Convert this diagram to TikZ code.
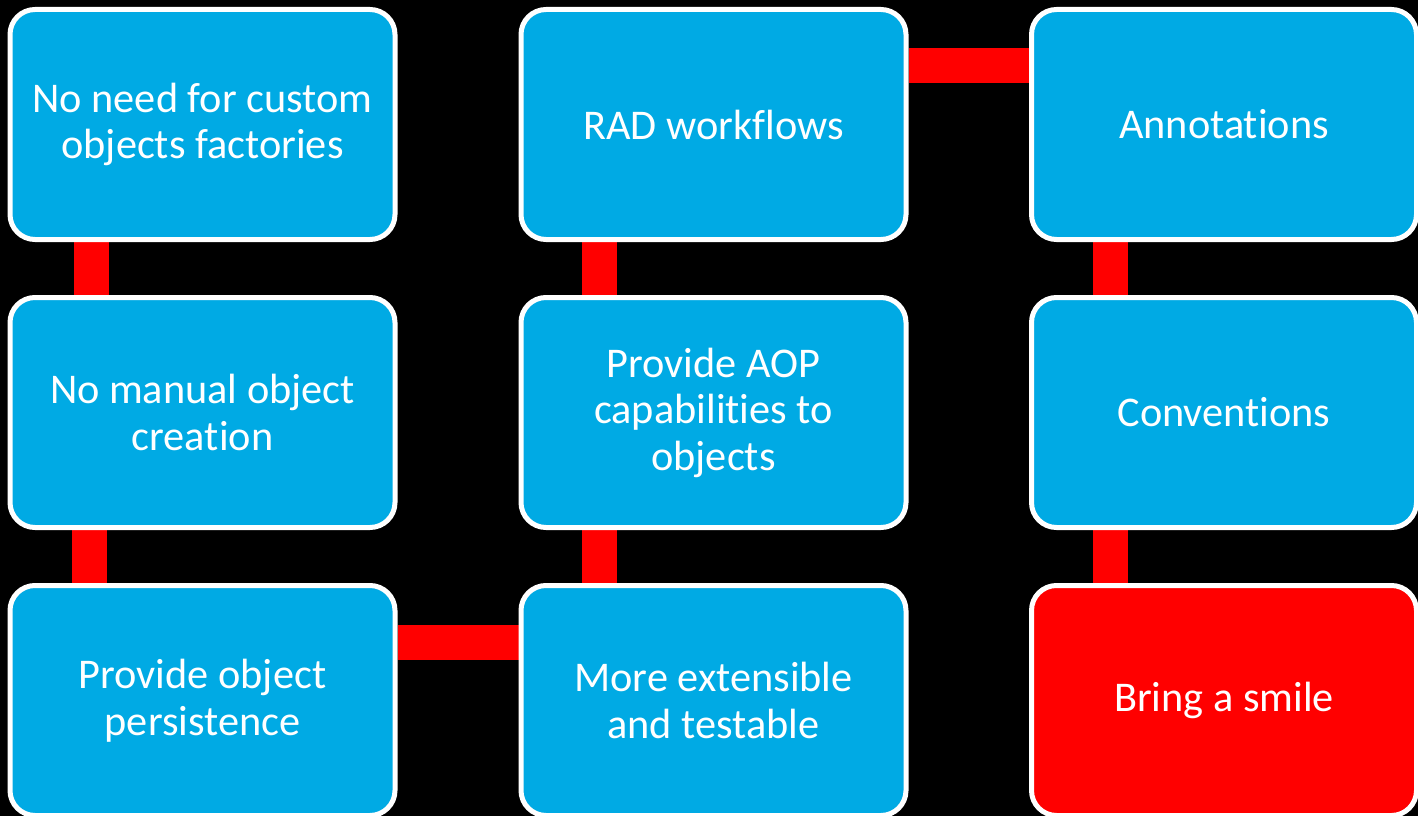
\documentclass[tikz,border=0pt]{standalone}
\usepackage{fontspec}
\setmainfont[Ligatures=NoCommon]{Carlito}
\usetikzlibrary{backgrounds}
\definecolor{boxblue}{RGB}{0,170,228}
\definecolor{barred}{RGB}{255,0,0}
\tikzset{
  box/.style={draw=white, line width=5pt, fill=boxblue, rounded corners=25pt,
    minimum width=385pt, minimum height=230pt, text=white, align=center,
    font=\fontsize{42.3pt}{46.5pt}\selectfont, inner sep=0pt},
  redbox/.style={box, fill=barred},
  bar/.style={draw=barred, line width=35pt}
}
\begin{document}
\begin{tikzpicture}[x=1pt,y=1pt]
\useasboundingbox (0,0) rectangle (1418,-816);
\node[box] (a1) at (202.5,-124.5) {No need for custom\\objects factories};
\node[box] (a2) at (202.5,-412.5) {No manual object\\creation};
\node[box] (a3) at (202.5,-700.5) {Provide object\\persistence};
\node[box] (b1) at (713.5,-124.5) {RAD workflows};
\node[box] (b2) at (713.5,-412.5) {Provide AOP\\capabilities to\\objects};
\node[box] (b3) at (713.5,-700.5) {More extensible\\and testable};
\node[box] (c1) at (1224,-124.5) {Annotations};
\node[box] (c2) at (1224,-412.5) {Conventions};
\node[redbox] (c3) at (1224,-700.5) {Bring a smile};
\begin{scope}[on background layer]
  \fill[black] (0,0) rectangle (1418,-816);
  \draw[bar] ([xshift=-111pt]a1.south) -- ([xshift=-111pt]a2.north);
  \draw[bar] ([xshift=-113.5pt]a2.south) -- ([xshift=-113.5pt]a3.north);
  \draw[bar] ([xshift=-114.5pt]b1.south) -- ([xshift=-114.5pt]b2.north);
  \draw[bar] ([xshift=-114.5pt]b2.south) -- ([xshift=-114.5pt]b3.north);
  \draw[bar] ([xshift=-114pt]c1.south) -- ([xshift=-114pt]c2.north);
  \draw[bar] ([xshift=-114pt]c2.south) -- ([xshift=-114pt]c3.north);
  \draw[bar] ([yshift=58.5pt]a3.east) -- ([yshift=58.5pt]b3.west);
  \draw[bar] ([yshift=59pt]b1.east) -- ([yshift=59pt]c1.west);
\end{scope}
\end{tikzpicture}
\end{document}
